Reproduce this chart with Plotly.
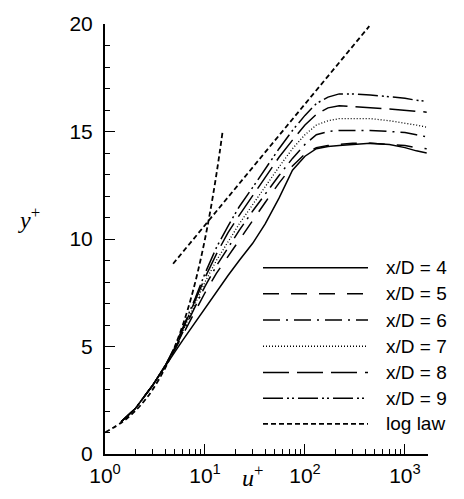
import plotly.graph_objects as go
import math

# ---------------- data ----------------
xp = [1.45, 2, 3, 4, 5, 6, 7, 8, 10, 13, 17, 22, 30, 40, 55, 75, 100, 130, 170, 220, 300, 450, 700, 1000, 1300, 1650]

xd4 = [1.5, 2.1, 3.2, 4.1, 4.75, 5.3, 5.75, 6.1, 6.75, 7.55, 8.3, 9.0, 9.8, 10.7, 11.9, 13.2, 13.85, 14.2, 14.3, 14.35, 14.4, 14.45, 14.4, 14.25, 14.1, 14.0]
xd5 = [1.5, 2.1, 3.2, 4.1, 4.85, 5.55, 6.15, 6.7, 7.5, 8.4, 9.2, 9.95, 10.9, 11.7, 12.6, 13.4, 13.95, 14.25, 14.35, 14.4, 14.45, 14.45, 14.4, 14.35, 14.25, 14.2]
xd6 = [1.5, 2.1, 3.2, 4.1, 4.9, 5.65, 6.3, 6.9, 7.8, 8.75, 9.6, 10.4, 11.3, 12.1, 12.95, 13.75, 14.4, 14.85, 15.0, 15.05, 15.05, 15.05, 15.0, 14.95, 14.85, 14.75]
xd7 = [1.5, 2.1, 3.2, 4.1, 4.9, 5.7, 6.4, 7.0, 8.0, 9.0, 9.9, 10.7, 11.6, 12.45, 13.35, 14.2, 14.85, 15.3, 15.5, 15.6, 15.6, 15.6, 15.5, 15.4, 15.3, 15.2]
xd8 = [1.5, 2.1, 3.2, 4.1, 4.95, 5.8, 6.5, 7.1, 8.2, 9.3, 10.3, 11.1, 12.0, 12.85, 13.8, 14.6, 15.3, 15.8, 16.1, 16.2, 16.15, 16.1, 16.05, 16.0, 15.95, 15.9]
xd9 = [1.5, 2.1, 3.2, 4.1, 5.0, 5.85, 6.6, 7.25, 8.4, 9.6, 10.6, 11.5, 12.4, 13.25, 14.2, 15.05, 15.75, 16.3, 16.6, 16.75, 16.75, 16.7, 16.6, 16.55, 16.45, 16.4]

# viscous sublayer (u+ = y+) and log law
lin_x = [1, 1.5, 2, 2.5, 3, 4, 5, 6, 7, 8, 9, 10, 11, 12, 13, 14, 15]
lin_y = [1, 1.5, 2, 2.5, 3, 4, 5, 6, 7, 8, 9, 10, 11, 12, 13, 14, 15]
log_x = [4.8, 440]
log_y = [8.85, 19.9]

series_labels = ["x/D = 4", "x/D = 5", "x/D = 6", "x/D = 7", "x/D = 8", "x/D = 9", "log law"]
series_values = [xd4, xd5, xd6, xd7, xd8, xd9]

x_tickvals = [1, 10, 100, 1000]
x_ticktext = ["10<sup>0</sup>", "10<sup>1</sup>", "10<sup>2</sup>", "10<sup>3</sup>"]
y_tickvals = [0, 5, 10, 15, 20]

# ---------------- styles ----------------
dashes = ["solid", "16px,12px", "17px,6px,2px,6px", "1px,2px", "26px,8px", "20px,4px,2px,3px,2px,4px", "5px,3px"]
widths = [1.5, 1.5, 1.5, 1.3, 1.5, 1.5, 1.8]

fig = go.Figure()
for vals, lab, d, w in zip(series_values, series_labels, dashes, widths):
    fig.add_trace(go.Scatter(x=xp, y=vals, mode="lines", name=lab,
                             line=dict(color="black", width=w, dash=d), showlegend=False))
fig.add_trace(go.Scatter(x=lin_x, y=lin_y, mode="lines", name="log law",
                         line=dict(color="black", width=widths[6], dash=dashes[6], shape="spline"), showlegend=False))
fig.add_trace(go.Scatter(x=log_x, y=log_y, mode="lines", name="log law",
                         line=dict(color="black", width=widths[6], dash=dashes[6]), showlegend=False))

# plot area in pixels
L, R, T, B = 105, 428, 16, 459
W, H = 464, 499
pw, ph = R - L, B - T

def px2paper_x(px):
    return (px - L) / pw

def px2paper_y(py):
    return (B - py) / ph

shapes = []
annotations = []
row_py = [267, 294, 321, 348, 375, 401.5, 428]
for lab, d, w, py in zip(series_labels, dashes, widths, row_py):
    yy = px2paper_y(py)
    shapes.append(dict(type="line", xref="paper", yref="paper",
                       x0=px2paper_x(263), x1=px2paper_x(368), y0=yy, y1=yy,
                       line=dict(color="black", width=w, dash=d)))
    annotations.append(dict(xref="paper", yref="paper", x=px2paper_x(384), y=yy,
                            text=lab, showarrow=False, xanchor="left", yanchor="middle",
                            font=dict(family="Arial, Liberation Sans", size=19, color="black")))

# axis titles
annotations.append(dict(xref="paper", yref="paper", x=px2paper_x(240), y=px2paper_y(482),
                        text="<i>u</i><sup>+</sup>", showarrow=False, xanchor="left", yanchor="middle",
                        font=dict(family="Liberation Serif, Times New Roman", size=24, color="black")))
annotations.append(dict(xref="paper", yref="paper", x=px2paper_x(16), y=px2paper_y(216),
                        text="<i>y</i><sup>+</sup>", showarrow=False, xanchor="left", yanchor="middle",
                        font=dict(family="Liberation Serif, Times New Roman", size=24, color="black")))

fig.update_layout(
    width=W, height=H,
    margin=dict(l=L, r=W - R, t=T, b=H - B, pad=0),
    paper_bgcolor="white", plot_bgcolor="white",
    shapes=shapes, annotations=annotations,
    font=dict(family="Arial, Liberation Sans", color="black"),
)
fig.update_xaxes(type="log", range=[0, math.log10(1700)],
                 tickmode="array", tickvals=x_tickvals, ticktext=x_ticktext,
                 ticks="inside", ticklen=10, tickwidth=1.3, tickcolor="black",
                 minor=dict(ticks="inside", ticklen=5, tickwidth=1, tickcolor="black",
                            tickmode="array",
                            tickvals=[m * 10 ** e for e in range(0, 4) for m in range(2, 10)]),
                 showline=True, linecolor="black", linewidth=2, showgrid=False, zeroline=False,
                 tickfont=dict(size=21, family="Arial, Liberation Sans"), ticklabelstandoff=2)
fig.update_yaxes(range=[0, 20], tickmode="array", tickvals=y_tickvals,
                 ticks="inside", ticklen=10, tickwidth=1.3, tickcolor="black",
                 minor=dict(ticks="inside", ticklen=5, tickwidth=1, tickcolor="black", dtick=1),
                 showline=True, linecolor="black", linewidth=2, showgrid=False, zeroline=False,
                 tickfont=dict(size=21, family="Arial, Liberation Sans"), ticklabelstandoff=6)

fig.write_html("out.html")
